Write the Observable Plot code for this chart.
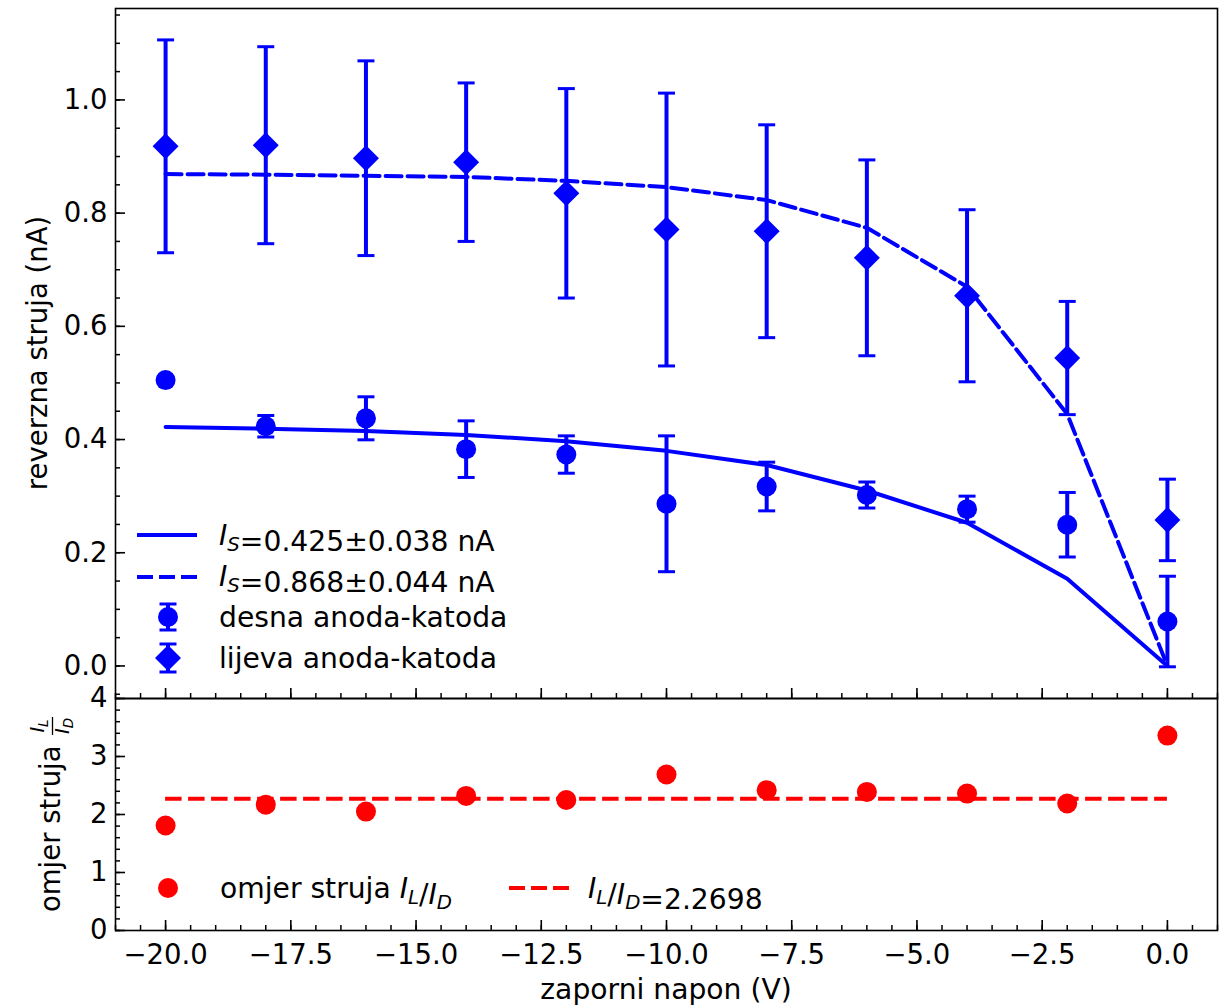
<!DOCTYPE html>
<html>
<head>
<meta charset="utf-8">
<script src="https://cdn.jsdelivr.net/npm/d3@7"></script>
<script src="https://cdn.jsdelivr.net/npm/@observablehq/plot@0.6"></script>
<style>
  html, body { margin: 0; padding: 0; background: white; }
  #chart { width: 1220px; height: 1008px; position: relative; }
  #chart svg { display: block; }
</style>
</head>
<body>
<div id="chart"></div>
<script>
// ---- data ----
const voltage = [-20, -18, -16, -14, -12, -10, -8, -6, -4, -2, 0];
const desnaI   = [0.505, 0.4235, 0.4375, 0.383, 0.3735, 0.2865, 0.317, 0.302, 0.277, 0.2495, 0.0785];
const desnaErr = [0.000, 0.019, 0.038, 0.050, 0.033, 0.120, 0.043, 0.023, 0.023, 0.057, 0.080];
const lijevaI   = [0.918, 0.920, 0.897, 0.890, 0.835, 0.771, 0.768, 0.721, 0.654, 0.544, 0.258];
const lijevaErr = [0.188, 0.174, 0.172, 0.140, 0.185, 0.241, 0.188, 0.173, 0.152, 0.100, 0.072];
const fitDesna  = [0.422, 0.419, 0.415, 0.408, 0.397, 0.380, 0.355, 0.310, 0.253, 0.154, 0.0];
const fitLijeva = [0.869, 0.868, 0.866, 0.864, 0.857, 0.846, 0.823, 0.774, 0.670, 0.445, 0.0];
const ratio     = [1.81, 2.17, 2.05, 2.32, 2.25, 2.69, 2.42, 2.39, 2.36, 2.19, 3.36];
const ratioFit  = 2.2698;

const xMajor = [-20, -17.5, -15, -12.5, -10, -7.5, -5, -2.5, 0];
const xMinor = d3.range(-21, 1.001, 0.5);
const yTopMajor = [0, 0.2, 0.4, 0.6, 0.8, 1.0];
const yTopMinor = d3.range(-0.05, 1.16, 0.05);
const yBotMajor = [0, 1, 2, 3, 4];
const yBotMinor = d3.range(0, 4.001, 0.2);

const BLUE = "#0000ff", RED = "#ff0000";
const W = 1220, ML = 115, MR = 3;
const TOP_H = 698, TOP_MT = 8;
const BOT_H = 310, BOT_MB = 78;
const plotW = W - ML - MR;
const topPlotH = TOP_H - TOP_MT;
const botPlotH = BOT_H - BOT_MB;
const FONT = "DejaVu Sans";
const FS = 27.5;   // tick labels, y labels
const LFS = 28.2;  // legend and x label
const DASH = "16,6";

const desna = voltage.map((v, i) => ({v, I: desnaI[i], lo: desnaI[i] - desnaErr[i], hi: desnaI[i] + desnaErr[i]}));
const lijeva = voltage.map((v, i) => ({v, I: lijevaI[i], lo: lijevaI[i] - lijevaErr[i], hi: lijevaI[i] + lijevaErr[i]}));
const fitD = voltage.map((v, i) => ({v, I: fitDesna[i]}));
const fitL = voltage.map((v, i) => ({v, I: fitLijeva[i]}));
const ratioData = voltage.map((v, i) => ({v, r: ratio[i]}));

// horizontal cap symbol for error bars
const capSymbol = {
  draw(context, size) {
    const r = Math.sqrt(size / Math.PI);
    context.moveTo(-r, 0);
    context.lineTo(r, 0);
  }
};

const style = {fontFamily: FONT, fontSize: FS + "px", color: "black", background: "transparent", overflow: "visible"};

function tickMarks(xMaj, xMin, yMaj, yMin, plotH) {
  return [
    Plot.tickX(xMin, {x: d => d, insetTop: plotH - 5, stroke: "black", strokeWidth: 1.5}),
    Plot.tickX(xMaj, {x: d => d, insetTop: plotH - 10, stroke: "black", strokeWidth: 1.6}),
    Plot.tickY(yMin, {y: d => d, insetRight: plotW - 5, stroke: "black", strokeWidth: 1.5}),
    Plot.tickY(yMaj, {y: d => d, insetRight: plotW - 10, stroke: "black", strokeWidth: 1.6})
  ];
}

function errorMarks(data, symbolOpts) {
  return [
    Plot.ruleX(data, {x: "v", y1: "lo", y2: "hi", stroke: BLUE, strokeWidth: 4}),
    Plot.dot(data, {x: "v", y: "lo", symbol: capSymbol, r: 8.5, fill: "none", stroke: BLUE, strokeWidth: 3}),
    Plot.dot(data, {x: "v", y: "hi", symbol: capSymbol, r: 8.5, fill: "none", stroke: BLUE, strokeWidth: 3}),
    Plot.dot(data, {x: "v", y: "I", fill: BLUE, stroke: "none", ...symbolOpts})
  ];
}

const topPlot = Plot.plot({
  width: W, height: TOP_H,
  marginTop: TOP_MT, marginBottom: 0, marginLeft: ML, marginRight: MR,
  style,
  x: {domain: [-21, 1], axis: null},
  y: {domain: [-0.0575, 1.1615]},
  marks: [
    Plot.line(fitD, {x: "v", y: "I", stroke: BLUE, strokeWidth: 4}),
    Plot.line(fitL, {x: "v", y: "I", stroke: BLUE, strokeWidth: 4, strokeDasharray: DASH}),
    ...errorMarks(desna, {r: 10}),
    ...errorMarks(lijeva, {r: 11.7, symbol: "diamond2"}),
    ...tickMarks(xMajor, xMinor, yTopMajor, yTopMinor, topPlotH),
    Plot.axisY(yTopMajor, {tickSize: 0, tickPadding: 8, tickFormat: d3.format(".1f"), label: null}),
    Plot.frame({stroke: "black", strokeWidth: 1.6})
  ]
});

const xMinV = d3.min(voltage), xMaxV = d3.max(voltage);
const botPlot = Plot.plot({
  width: W, height: BOT_H,
  marginTop: 0, marginBottom: BOT_MB, marginLeft: ML, marginRight: MR,
  style,
  x: {domain: [-21, 1]},
  y: {domain: [0, 4]},
  marks: [
    Plot.ruleY([ratioFit], {y: d => d, x1: xMinV, x2: xMaxV, stroke: RED, strokeWidth: 4, strokeDasharray: "16.5,6.5"}),
    Plot.dot(ratioData, {x: "v", y: "r", r: 10, fill: RED, stroke: "none"}),
    ...tickMarks(xMajor, xMinor, yBotMajor, yBotMinor, botPlotH),
    Plot.axisY(yBotMajor, {tickSize: 0, tickPadding: 8, tickFormat: d3.format("d"), label: null}),
    Plot.axisX(xMajor, {tickSize: 0, tickPadding: 14, tickFormat: d3.format(".1f"), label: null}),
    Plot.frame({stroke: "black", strokeWidth: 1.6})
  ]
});

const chart = document.getElementById("chart");
chart.appendChild(topPlot);
chart.appendChild(botPlot);

// ---- helpers for mathtext-like labels ----
function mathI(sel, sub, fs) {
  sel.append("tspan").attr("font-style", "italic").text("I");
  sel.append("tspan").attr("font-style", "italic").attr("font-size", (fs * 0.7) + "px").attr("dy", fs * 0.2).text(sub);
  sel.append("tspan").attr("dy", -fs * 0.2).text("");
}

// ---- top panel: legend + y label ----
const st = d3.select(topPlot);
const lg = st.append("g").attr("font-family", FONT).attr("font-size", LFS + "px").attr("fill", "black").attr("text-anchor", "start");
const hx0 = 137, hx1 = 197, hc = 168, tx = 219;
lg.append("line").attr("x1", hx0).attr("x2", hx1).attr("y1", 535).attr("y2", 535).attr("stroke", BLUE).attr("stroke-width", 4);
lg.append("line").attr("x1", hx0).attr("x2", hx1).attr("y1", 577).attr("y2", 577).attr("stroke", BLUE).attr("stroke-width", 4).attr("stroke-dasharray", DASH);
function errHandle(g, cy, half) {
  g.append("line").attr("x1", hc).attr("x2", hc).attr("y1", cy - half).attr("y2", cy + half).attr("stroke", BLUE).attr("stroke-width", 4);
  [cy - half, cy + half].forEach(yy => g.append("line").attr("x1", hc - 8.5).attr("x2", hc + 8.5).attr("y1", yy).attr("y2", yy).attr("stroke", BLUE).attr("stroke-width", 3));
}
errHandle(lg, 617, 13);
lg.append("circle").attr("cx", hc).attr("cy", 617).attr("r", 10).attr("fill", BLUE);
errHandle(lg, 658, 14);
lg.append("path").attr("d", d3.symbol(d3.symbolDiamond2, Math.PI * 11.7 * 11.7)()).attr("transform", `translate(${hc},658)`).attr("fill", BLUE);

let t1 = lg.append("text").attr("x", tx).attr("y", 545);
mathI(t1, "S", LFS); t1.append("tspan").text("=0.425±0.038 nA");
let t2 = lg.append("text").attr("x", tx).attr("y", 586);
mathI(t2, "S", LFS); t2.append("tspan").text("=0.868±0.044 nA");
lg.append("text").attr("x", tx).attr("y", 627).text("desna anoda-katoda");
lg.append("text").attr("x", tx).attr("y", 668).text("lijeva anoda-katoda");

st.append("text")
  .attr("transform", `translate(47,${TOP_MT + topPlotH / 2}) rotate(-90)`)
  .attr("text-anchor", "middle").attr("font-family", FONT).attr("font-size", FS + "px").attr("fill", "black")
  .text("reverzna struja (nA)");

// ---- bottom panel: legend + labels ----
const sb = d3.select(botPlot);
const lb = sb.append("g").attr("font-family", FONT).attr("font-size", LFS + "px").attr("fill", "black").attr("text-anchor", "start");
const oy = -TOP_H; // convert page y to bottom svg y
lb.append("circle").attr("cx", 168).attr("cy", 888 + oy).attr("r", 10).attr("fill", RED);
let t3 = lb.append("text").attr("x", 220).attr("y", 898 + oy);
t3.append("tspan").text("omjer struja ");
mathI(t3, "L", LFS); t3.append("tspan").text("/"); mathI(t3, "D", LFS);
lb.append("line").attr("x1", 509).attr("x2", 569).attr("y1", 888 + oy).attr("y2", 888 + oy).attr("stroke", RED).attr("stroke-width", 4).attr("stroke-dasharray", DASH);
let t4 = lb.append("text").attr("x", 588).attr("y", 898 + oy);
mathI(t4, "L", LFS); t4.append("tspan").text("/"); mathI(t4, "D", LFS); t4.append("tspan").text("=2.2698");

// x axis label
sb.append("text").attr("x", ML + plotW / 2).attr("y", 999 + oy).attr("text-anchor", "middle")
  .attr("font-family", FONT).attr("font-size", LFS + "px").attr("fill", "black").text("zaporni napon (V)");

// y label with fraction
const yl = sb.append("g").attr("transform", `translate(60,${botPlotH / 2}) rotate(-90)`)
  .attr("font-family", FONT).attr("fill", "black");
const u0 = -98;
yl.append("text").attr("x", u0).attr("y", 0).attr("text-anchor", "start").attr("font-size", FS + "px").text("omjer struja");
const fc = 88, ffs = 19.25;
let num = yl.append("text").attr("x", fc).attr("y", -16).attr("text-anchor", "middle").attr("font-size", ffs + "px");
mathI(num, "L", ffs);
let den = yl.append("text").attr("x", fc).attr("y", 9).attr("text-anchor", "middle").attr("font-size", ffs + "px");
mathI(den, "D", ffs);
yl.append("line").attr("x1", fc - 9).attr("x2", fc + 9).attr("y1", -7.5).attr("y2", -7.5).attr("stroke", "black").attr("stroke-width", 1.3);
</script>
</body>
</html>
